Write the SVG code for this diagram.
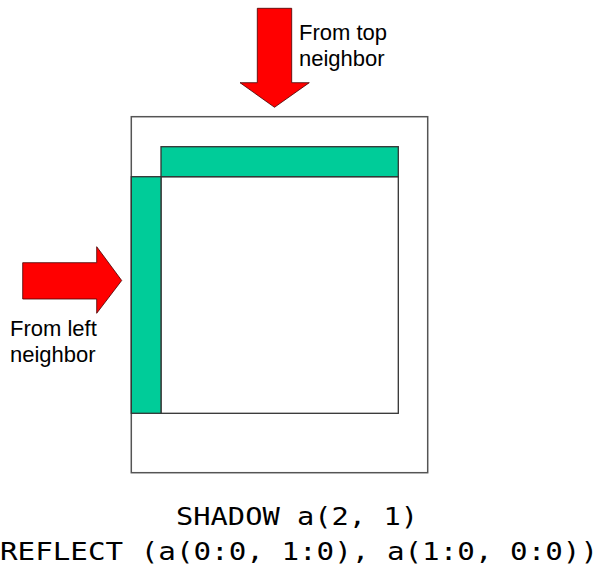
<svg xmlns="http://www.w3.org/2000/svg" width="603" height="571" viewBox="0 0 603 571">
  <style>
    .label { font-family: "Liberation Sans", Arial, sans-serif; font-size: 22px; fill: #000; }
    .code { font-family: "DejaVu Sans Mono", "Liberation Mono", monospace; font-size: 25px; fill: #000; }
    .frame { fill: #fff; stroke: #555; stroke-width: 1.5; }
    .band { fill: #00cc99; stroke: #333; stroke-width: 1.3; }
    .inner { fill: #fff; stroke: #333; stroke-width: 1.3; }
    .arrow { fill: #ff0000; stroke: #400; stroke-width: 0.8; stroke-linejoin: miter; }
  </style>
  <rect width="603" height="571" fill="#fff"/>

  <!-- processor block and its halo regions -->
  <g id="block">
    <rect class="frame" x="131.3" y="116.7" width="296.4" height="356"/>
  </g>
  <g id="inner-region">
    <rect class="inner" x="161" y="176.7" width="237.3" height="236.6"/>
  </g>
  <g id="top-halo">
    <rect class="band" x="161" y="146.7" width="237.3" height="30"/>
  </g>
  <g id="left-halo">
    <rect class="band" x="131.3" y="176.7" width="29.7" height="236.6"/>
  </g>

  <!-- incoming data arrows -->
  <g id="connectors">
    <polygon class="arrow" points="257.3,8.3 291.7,8.3 291.7,82.7 309.3,82.7 274.5,107.3 240,82.7 257.3,82.7"/>
    <polygon class="arrow" points="22.7,262.7 96.7,262.7 96.7,246.7 121.7,280.5 96.7,313.3 96.7,299 22.7,299"/>
  </g>

  <g id="label-top">
    <text class="label" x="299" y="40">From top</text>
    <text class="label" x="299" y="66">neighbor</text>
  </g>
  <g id="label-left">
    <text class="label" x="10" y="336">From left</text>
    <text class="label" x="10" y="362">neighbor</text>
  </g>

  <g id="caption">
    <text class="code" x="176" y="525" textLength="242" lengthAdjust="spacingAndGlyphs">SHADOW a(2, 1)</text>
    <text class="code" x="0" y="560" textLength="598" lengthAdjust="spacingAndGlyphs">REFLECT (a(0:0, 1:0), a(1:0, 0:0))</text>
  </g>
</svg>
